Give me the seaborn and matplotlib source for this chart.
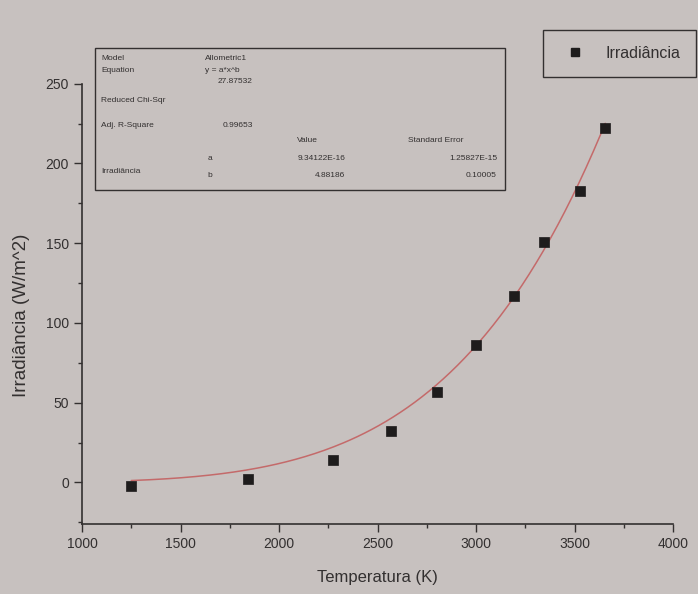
import numpy as np
import pandas as pd
import matplotlib
matplotlib.use("Agg")
import matplotlib.pyplot as plt
from matplotlib.ticker import MultipleLocator
from matplotlib.patches import Rectangle
import seaborn as sns

# ---- data ----
temperatura = [1250, 1840, 2275, 2570, 2800, 3000, 3190, 3345, 3525, 3655]
irradiancia = [-2, 2, 14, 32, 57, 86, 117, 151, 183, 222]

# fit curve (Allometric1: y = a*x^b), parameters estimated from the table / curve
fit_a = 9.1e-16
fit_b = 4.88186
fit_x_range = [1250, 3655]

x_ticks = [1000, 1500, 2000, 2500, 3000, 3500, 4000]
y_ticks = [0, 50, 100, 150, 200, 250]

table_labels = ["Model", "Equation", "Reduced Chi-Sqr", "Adj. R-Square"]
table_values = ["Allometric1", "y = a*x^b", "27.87532", "0.99653"]
param_names = ["a", "b"]
param_values = ["9.34122E-16", "4.88186"]
param_errors = ["1.25827E-15", "0.10005"]

# ---- figure ----
sns.set_style("ticks")
plt.rcParams["font.family"] = ["Liberation Sans", "DejaVu Sans"]
bg = "#c7c1bf"
ink = "#333030"

fig = plt.figure(figsize=(6.98, 5.94), dpi=100, facecolor=bg)
ax = fig.add_axes([0.1175, 0.118, 0.847, 0.741], facecolor=bg)

df = pd.DataFrame({"T": temperatura, "I": irradiancia})
xf = np.linspace(fit_x_range[0], fit_x_range[1], 200)
fit_df = pd.DataFrame({"T": xf, "I": fit_a * xf ** fit_b})

sns.lineplot(data=fit_df, x="T", y="I", ax=ax, color="#c46a6a", lw=1.1, zorder=2)
sns.scatterplot(data=df, x="T", y="I", ax=ax, marker="s", s=55, color="#1e1c1c",
                edgecolor="#1e1c1c", linewidth=0.5, zorder=3)

ax.set_xlim(1000, 4000)
ax.set_ylim(-26, 250)
ax.set_xticks(x_ticks)
ax.set_yticks(y_ticks)
ax.xaxis.set_minor_locator(MultipleLocator(250))
ax.yaxis.set_minor_locator(MultipleLocator(25))
ax.tick_params(axis="both", which="major", length=6, width=1, color=ink,
               labelsize=10, labelcolor=ink, direction="out")
ax.tick_params(axis="both", which="minor", length=3, width=1, color=ink, direction="out")
for s in ["top", "right"]:
    ax.spines[s].set_visible(False)
for s in ["left", "bottom"]:
    ax.spines[s].set_color(ink)
    ax.spines[s].set_linewidth(1.2)

ax.set_xlabel("Temperatura (K)", fontsize=12, color=ink)
ax.set_ylabel("Irradiância (W/m^2)", fontsize=13.5, color=ink)
ax.xaxis.set_label_coords(0.499, -0.104)
ax.yaxis.set_label_coords(-0.088, 0.475)

# legend box
handle = plt.Line2D([], [], marker="s", color="#1e1c1c", ls="none", markersize=6)
fig.legend([handle], ["Irradiância"], loc="upper left",
           bbox_to_anchor=(0.778, 0.9495), borderaxespad=0, frameon=True, fancybox=False,
           edgecolor=ink, facecolor=bg, fontsize=11.5, handletextpad=0.9,
           borderpad=1.0, labelcolor=ink, framealpha=1)

# stats table
fig.patches.append(Rectangle((0.136, 0.68), 0.588, 0.24, transform=fig.transFigure,
                             fill=False, edgecolor=ink, lw=1.0))
fs = 6
lab_y = [0.902, 0.882, 0.83, 0.789]
for lab, yy in zip(table_labels, lab_y):
    fig.text(0.145, yy, lab, fontsize=fs, color=ink, va="center")
fig.text(0.293, 0.902, table_values[0], fontsize=fs, color=ink, va="center")
fig.text(0.293, 0.882, table_values[1], fontsize=fs, color=ink, va="center")
fig.text(0.362, 0.862, table_values[2], fontsize=fs, color=ink, va="center", ha="right")
fig.text(0.362, 0.789, table_values[3], fontsize=fs, color=ink, va="center", ha="right")
fig.text(0.44, 0.763, "Value", fontsize=fs, color=ink, va="center", ha="center")
fig.text(0.625, 0.763, "Standard Error", fontsize=fs, color=ink, va="center", ha="center")
fig.text(0.145, 0.712, "Irradiância", fontsize=fs, color=ink, va="center")
for i, yy in enumerate([0.733, 0.705]):
    fig.text(0.297, yy, param_names[i], fontsize=fs, color=ink, va="center")
    fig.text(0.495, yy, param_values[i], fontsize=fs, color=ink, va="center", ha="right")
    fig.text(0.712, yy, param_errors[i], fontsize=fs, color=ink, va="center", ha="right")

fig.savefig("out.png", dpi=100, facecolor=bg)
